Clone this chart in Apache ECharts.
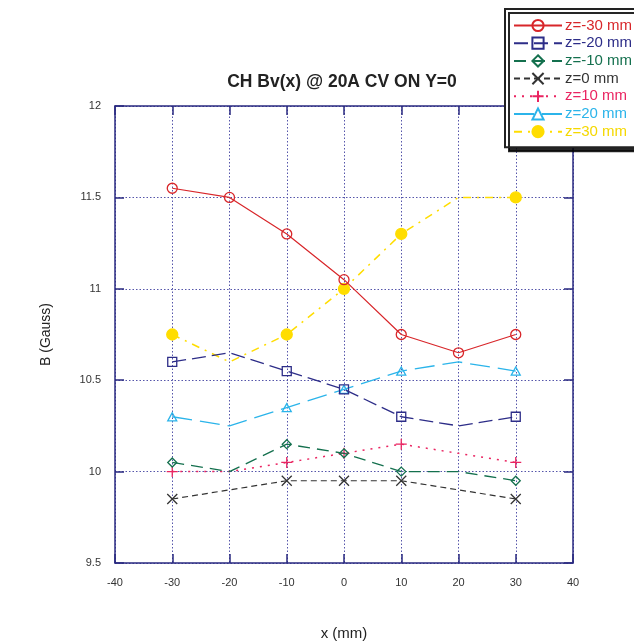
<!DOCTYPE html>
<html>
<head>
<meta charset="utf-8">
<script src="https://cdn.jsdelivr.net/npm/echarts@6/dist/echarts.min.js"></script>
<style>html,body{margin:0;padding:0;background:#fff}#c{width:634px;height:643px}</style>
</head>
<body>
<div id="c"></div>
<script>
var xValues = [-30, -20, -10, 0, 10, 20, 30];
var zm30 = [11.55, 11.5, 11.3, 11.05, 10.75, 10.65, 10.75];
var zm20 = [10.6, 10.65, 10.55, 10.45, 10.3, 10.25, 10.3];
var zm10 = [10.05, 10.0, 10.15, 10.1, 10.0, 10.0, 9.95];
var z0   = [9.85, 9.9, 9.95, 9.95, 9.95, 9.9, 9.85];
var z10  = [10.0, 10.0, 10.05, 10.1, 10.15, 10.1, 10.05];
var z20  = [10.3, 10.25, 10.35, 10.45, 10.55, 10.6, 10.55];
var z30  = [10.75, 10.6, 10.75, 11.0, 11.3, 11.5, 11.5];
var allMarked = [1, 1, 1, 1, 1, 1, 1];
var someMarked = [1, 0, 1, 1, 1, 0, 1];
var seriesNames = ['z=-30 mm', 'z=-20 mm', 'z=-10 mm', 'z=0 mm', 'z=10 mm', 'z=20 mm', 'z=30 mm'];
var xTicks = [-40, -30, -20, -10, 0, 10, 20, 30, 40];
var yTicks = [9.5, 10, 10.5, 11, 11.5, 12];

var AX = '#2a2a80';
var CIRCLE = 'path://M10,5A5,5,0,1,1,0,5A5,5,0,1,1,10,5Z';
var SQUARE = 'path://M0,0L10,0L10,10L0,10Z';
var DIAMOND = 'path://M5,0L10,5L5,10L0,5Z';
var TRIANGLE = 'path://M5,0L10,9L0,9Z';
var CROSS = 'path://M0,0L10,10M10,0L0,10';
var PLUS = 'path://M5,0L5,10M0,5L10,5';
var styles = [
  {color: '#d8262a', symbol: CIRCLE, size: 10, dash: 'solid', width: 1.2, marks: allMarked, fill: 'transparent'},
  {color: '#2d2d88', symbol: SQUARE, size: 9, dash: [14, 6], width: 1.3, marks: someMarked, fill: 'transparent'},
  {color: '#14704e', symbol: DIAMOND, size: 9, dash: [12, 7], width: 1.3, marks: someMarked, fill: 'transparent'},
  {color: '#333333', symbol: CROSS, size: 10, dash: [6, 4], width: 1.2, marks: someMarked, fill: '#333333'},
  {color: '#ea2461', symbol: PLUS, size: 11, dash: [2, 6], width: 1.5, marks: someMarked, fill: '#ea2461'},
  {color: '#2bb4ea', symbol: TRIANGLE, size: 9, dash: [20, 8], width: 1.3, marks: someMarked, fill: 'transparent'},
  {color: '#ffdd00', symbol: 'circle', size: 11, dash: [8, 6, 2, 6], width: 1.5, marks: someMarked, fill: '#ffdd00'}
];
var ys = [zm30, zm20, zm10, z0, z10, z20, z30];

var series = ys.map(function (arr, i) {
  var s = styles[i];
  return {
    name: seriesNames[i],
    type: 'line',
    symbol: s.symbol,
    symbolSize: s.size,
    symbolKeepAspect: true,
    showAllSymbol: true,
    z: 10 - i,
    lineStyle: {color: s.color, width: s.width, type: s.dash},
    itemStyle: {color: s.fill, borderColor: s.color, borderWidth: 1.3},
    emphasis: {disabled: true},
    animation: false,
    data: arr.map(function (v, j) {
      var d = {value: [xValues[j], v]};
      if (!s.marks[j]) d.symbol = 'none';
      return d;
    })
  };
});

var chart = echarts.init(document.getElementById('c'), null, {renderer: 'canvas'});
var tickStyle = {show: true, inside: true, length: 9, lineStyle: {color: AX, width: 1.5}};
var splitStyle = {show: true, lineStyle: {color: '#5555aa', type: [1.5, 2], width: 1}};
chart.setOption({
  animation: false,
  backgroundColor: '#fff',
  textStyle: {fontFamily: 'Liberation Sans, Arial, sans-serif'},
  title: {
    text: 'CH Bv(x) @ 20A CV ON Y=0',
    left: 337, top: 68, textAlign: 'center',
    textStyle: {fontSize: 17.5, fontWeight: 'bold', color: '#222', fontFamily: 'Liberation Sans, Arial, sans-serif'}
  },
  grid: {left: 115, right: 61, top: 106, bottom: 80, show: false, outerBoundsMode: 'none', containLabel: false},
  legend: {
    orient: 'vertical',
    left: 505, top: 9,
    padding: [9, 12, 8, 8],
    itemWidth: 48, itemHeight: 14, itemGap: 2.7,
    backgroundColor: '#fff',
    borderColor: '#222', borderWidth: 2,
    shadowColor: 'rgba(0,0,0,0.85)', shadowOffsetX: 4, shadowOffsetY: 4, shadowBlur: 0,
    selectedMode: false,
    textStyle: {fontSize: 15, lineHeight: 14, fontFamily: 'Liberation Sans, Arial, sans-serif', padding: [0, 0, 0, -2]},
    data: seriesNames.map(function (n, i) { return {name: n, textStyle: {color: styles[i].color === '#ffdd00' ? '#f5d800' : styles[i].color}}; })
  },
  xAxis: [{
    type: 'value', min: -40, max: 40, interval: 10,
    name: 'x (mm)', nameLocation: 'middle', nameGap: 63,
    nameTextStyle: {fontSize: 15, color: '#222'},
    axisLine: {show: true, onZero: false, lineStyle: {color: AX, width: 1.5}},
    axisTick: tickStyle,
    axisLabel: {fontSize: 11, color: '#333', margin: 14},
    splitLine: splitStyle
  }, {
    type: 'value', min: -40, max: 40, interval: 10, position: 'top',
    axisLine: {show: true, onZero: false, lineStyle: {color: AX, width: 1.5}},
    axisTick: tickStyle, axisLabel: {show: false}, splitLine: {show: false}
  }],
  yAxis: [{
    type: 'value', min: 9.5, max: 12, interval: 0.5,
    name: 'B (Gauss)', nameLocation: 'middle', nameGap: 62, nameRotate: 90,
    nameTextStyle: {fontSize: 14, color: '#222'},
    axisLine: {show: true, onZero: false, lineStyle: {color: AX, width: 1.5}},
    axisTick: tickStyle,
    axisLabel: {fontSize: 11, color: '#333', margin: 14, formatter: function (v) { return String(Math.round(v * 10) / 10); }},
    splitLine: splitStyle
  }, {
    type: 'value', min: 9.5, max: 12, interval: 0.5, position: 'right',
    axisLine: {show: true, onZero: false, lineStyle: {color: AX, width: 1.5}},
    axisTick: tickStyle, axisLabel: {show: false}, splitLine: {show: false}
  }],
  series: series
});
</script>
</body>
</html>
